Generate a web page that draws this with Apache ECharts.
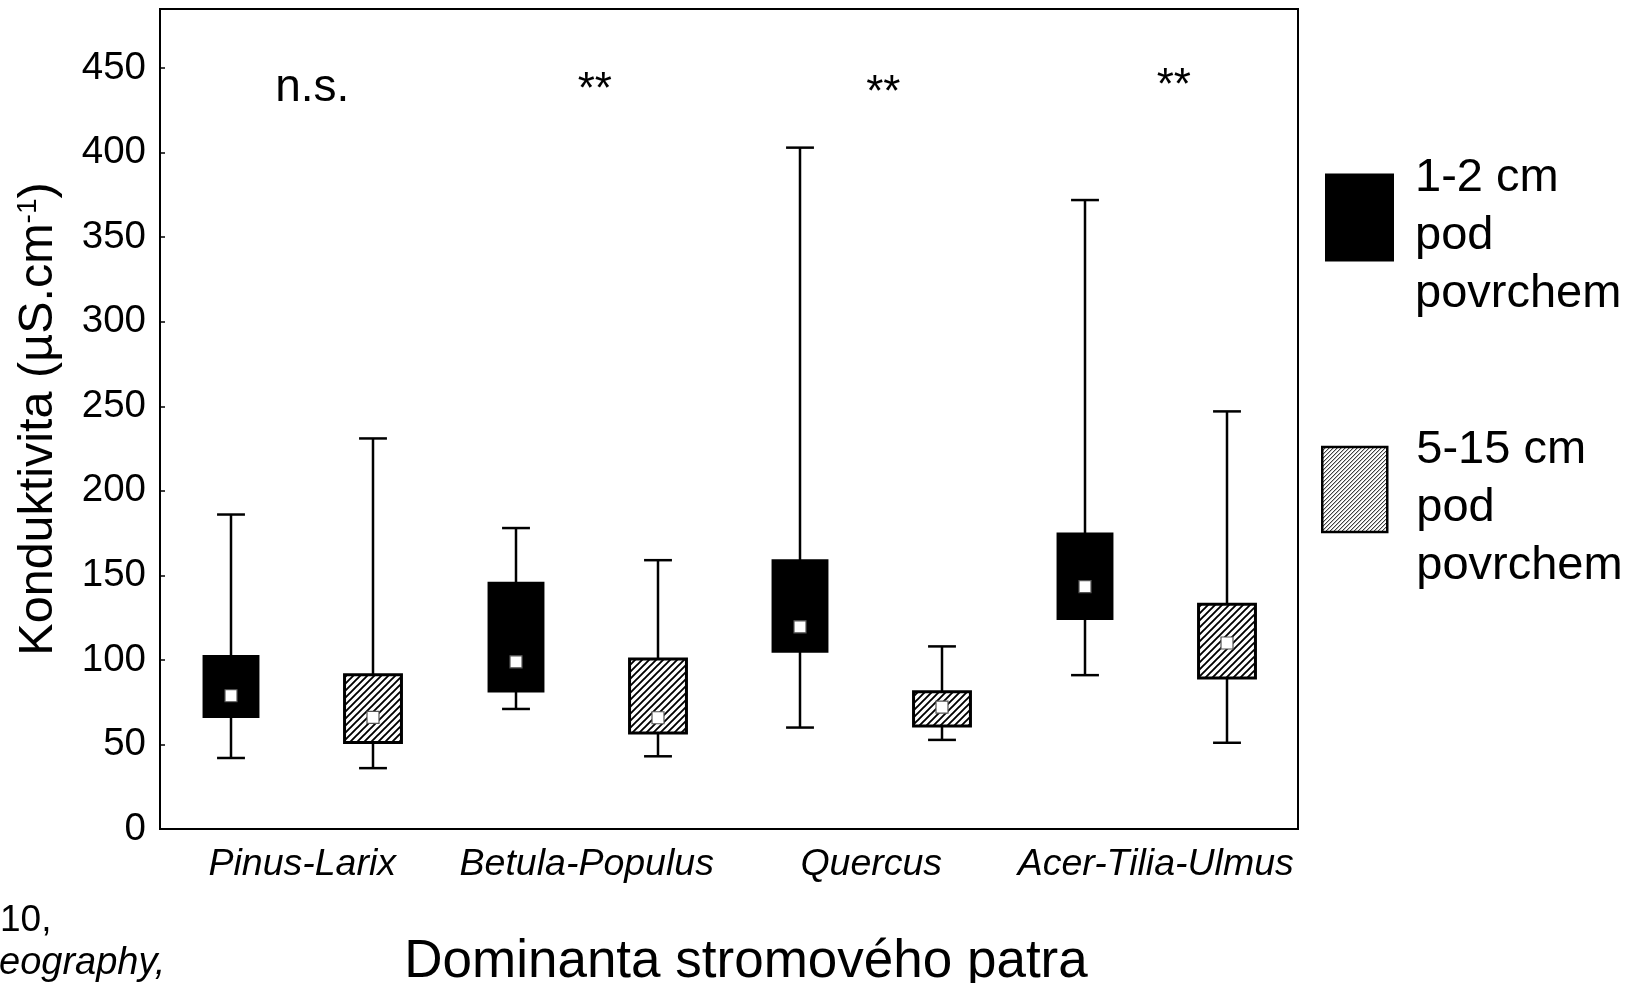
<!DOCTYPE html>
<html>
<head>
<meta charset="utf-8">
<script src="https://cdn.jsdelivr.net/npm/echarts@6/dist/echarts.min.js"></script>
<style>
  html, body { margin: 0; padding: 0; background: #fff; }
  #chart { width: 1629px; height: 983px; }
</style>
</head>
<body>
<div id="chart"></div>
<script>
// Tree-layer dominants on the category axis
const categories = ['Pinus-Larix', 'Betula-Populus', 'Quercus', 'Acer-Tilia-Ulmus'];

// Conductivity summaries per category: [min, Q1, median, Q3, max] in µS/cm
const shallow = [
  [42, 65.6, 78.8, 102.9, 186],
  [71, 80.8, 98.9, 146.2, 178],
  [60, 104.2, 119.6, 159.6, 403],
  [91, 123.6, 143.3, 175.4, 372]
];
const deep = [
  [36, 51.2, 66.0, 91.2, 231],
  [43, 56.8, 65.8, 100.5, 159],
  [52.7, 60.9, 72.1, 81.2, 108],
  [51, 89.3, 110.0, 133.0, 247]
];

const seriesNames = ['1-2 cm pod povrchem', '5-15 cm pod povrchem'];
const significance = ['n.s.', '**', '**', '**'];

const yMin = 0;
const yMax = 485;
const yInterval = 50;

const FONT = "'Liberation Sans', Arial, Helvetica, sans-serif";
const SIG_LEVEL = 438;

// Diagonal hatch fill built on a small tile canvas
function hatchPattern(size, width) {
  const c = document.createElement('canvas');
  c.width = size; c.height = size;
  const g = c.getContext('2d');
  g.fillStyle = '#fff';
  g.fillRect(0, 0, size, size);
  g.strokeStyle = '#000';
  g.lineWidth = width;
  g.beginPath();
  g.moveTo(-1, size + 1); g.lineTo(size + 1, -1);
  g.moveTo(-1, 1); g.lineTo(1, -1);
  g.moveTo(size - 1, size + 1); g.lineTo(size + 1, size - 1);
  g.stroke();
  return { image: c, repeat: 'repeat' };
}
const boxHatch = hatchPattern(7, 1.9);
const legendHatch = hatchPattern(4, 1);

function toItems(rows) {
  return rows.map((r, i) => [i].concat(r));
}

function boxRenderer(offset, fill, stroke, strokeWidth) {
  return function (params, api) {
    const ci = api.value(0);
    const band = api.size([1, 0])[0];
    const cx = Math.round(api.coord([ci, 0])[0] + offset * band);
    const py = k => api.coord([ci, api.value(k)])[1];
    const vMin = py(1), vQ1 = py(2), vMed = py(3), vQ3 = py(4), vMax = py(5);
    const bw = band * 0.2;
    const cw = band * 0.098;
    const lineStyle = { stroke: '#000', lineWidth: 2.5 };
    return {
      type: 'group',
      children: [
        { type: 'line', shape: { x1: cx, y1: vMin, x2: cx, y2: vMax }, style: lineStyle },
        { type: 'line', shape: { x1: cx - cw / 2, y1: vMin, x2: cx + cw / 2, y2: vMin }, style: lineStyle },
        { type: 'line', shape: { x1: cx - cw / 2, y1: vMax, x2: cx + cw / 2, y2: vMax }, style: lineStyle },
        {
          type: 'rect',
          shape: { x: cx - bw / 2, y: vQ3, width: bw, height: vQ1 - vQ3 },
          style: { fill: fill, stroke: stroke, lineWidth: strokeWidth }
        },
        {
          type: 'rect',
          shape: { x: cx - 6, y: vMed - 6, width: 12, height: 12 },
          style: { fill: '#fff', stroke: '#555', lineWidth: 1.2 }
        }
      ]
    };
  };
}

const chart = echarts.init(document.getElementById('chart'), null, { renderer: 'canvas' });

// Legend text: a thin spacer line first, then the label wrapped over three lines
const legendText = name => '{g| }\n' + name.replace(' pod ', '\npod\n');
const legendTextStyle = padLeft => ({
  fontFamily: FONT, fontSize: 47, lineHeight: 58, color: '#000',
  padding: [0, 0, 0, padLeft],
  rich: { g: { fontSize: 8, lineHeight: 38 } }
});

chart.setOption({
  animation: false,
  backgroundColor: '#fff',
  grid: {
    left: 160, top: 9, right: 331, bottom: 154,
    outerBoundsMode: 'none',
    containLabel: false,
    show: true, borderColor: '#000', borderWidth: 2, backgroundColor: 'transparent'
  },
  xAxis: {
    type: 'category',
    data: categories,
    boundaryGap: true,
    name: 'Dominanta stromového patra',
    nameLocation: 'middle',
    nameGap: 107,
    nameTextStyle: { fontFamily: FONT, fontSize: 53, color: '#000', padding: [0, 0, 0, 34] },
    axisLine: { lineStyle: { color: '#000', width: 2 } },
    axisTick: { alignWithLabel: true, inside: true, interval: 0, length: 6, lineStyle: { color: '#000', width: 1.5 } },
    axisLabel: { interval: 0, fontFamily: FONT, fontSize: 37.5, fontStyle: 'italic', color: '#000', margin: 17 },
    splitLine: { show: false }
  },
  yAxis: {
    type: 'value',
    min: yMin, max: yMax, interval: yInterval,
    name: '{a|Konduktivita (µS.cm}{s|-1}{a|)}',
    nameLocation: 'middle',
    nameGap: 97,
    nameTextStyle: {
      color: '#000',
      rich: {
        a: { fontFamily: FONT, fontSize: 48.5, color: '#000' },
        s: { fontFamily: FONT, fontSize: 28, color: '#000', verticalAlign: 'top' }
      }
    },
    axisLine: { show: true, lineStyle: { color: '#000', width: 2 } },
    axisTick: { show: true, inside: true, length: 5, lineStyle: { color: '#000', width: 1.5 } },
    axisLabel: {
      fontFamily: FONT, fontSize: 38.5, color: '#000', margin: 14, showMaxLabel: false,
      formatter: v => (v % yInterval === 0 ? String(v) : '')
    },
    splitLine: { show: false }
  },
  legend: [
    {
      data: [{ name: seriesNames[0], itemStyle: { color: '#000', borderWidth: 0 } }],
      left: 1325, top: 111.5, padding: 0, orient: 'vertical',
      icon: 'rect', itemWidth: 69, itemHeight: 88, selectedMode: false,
      formatter: legendText,
      textStyle: legendTextStyle(16)
    },
    {
      data: [{ name: seriesNames[1], itemStyle: { color: legendHatch, borderColor: '#000', borderWidth: 2.5 } }],
      left: 1321, top: 383.5, padding: 0, orient: 'vertical',
      icon: 'rect', itemWidth: 65, itemHeight: 85, selectedMode: false,
      formatter: legendText,
      textStyle: legendTextStyle(24)
    }
  ],
  series: [
    {
      name: seriesNames[0],
      type: 'custom',
      itemStyle: { color: '#000' },
      renderItem: boxRenderer(-0.25, '#000', null, 0),
      encode: { x: 0, y: [1, 2, 3, 4, 5] },
      data: toItems(shallow),
      z: 3
    },
    {
      name: seriesNames[1],
      type: 'custom',
      itemStyle: { color: boxHatch },
      renderItem: boxRenderer(0.25, boxHatch, '#000', 3),
      encode: { x: 0, y: [1, 2, 3, 4, 5] },
      data: toItems(deep),
      z: 3
    },
    {
      name: 'significance',
      type: 'scatter',
      symbolSize: 0,
      silent: true,
      itemStyle: { opacity: 1 },
      data: significance.map((s, i) => ({
        value: [i, SIG_LEVEL],
        label: s === '**'
          ? { fontSize: 44, offset: [[0, 8, 12, 18][i], [0, 2, 5, -2][i]] }
          : { fontSize: 46, offset: [10, 0] }
      })),
      label: {
        show: true,
        position: 'inside',
        fontFamily: FONT,
        color: '#000',
        opacity: 1,
        textBorderWidth: 0,
        formatter: p => significance[p.dataIndex]
      },
      z: 4
    }
  ],
  graphic: [
    {
      type: 'text', left: 0, top: 902,
      style: { text: '10,', font: '37px ' + FONT, fill: '#000' }
    },
    {
      type: 'text', left: -1, top: 944,
      style: { text: 'eography,', font: 'italic 38px ' + FONT, fill: '#000' }
    }
  ]
});
</script>
</body>
</html>
